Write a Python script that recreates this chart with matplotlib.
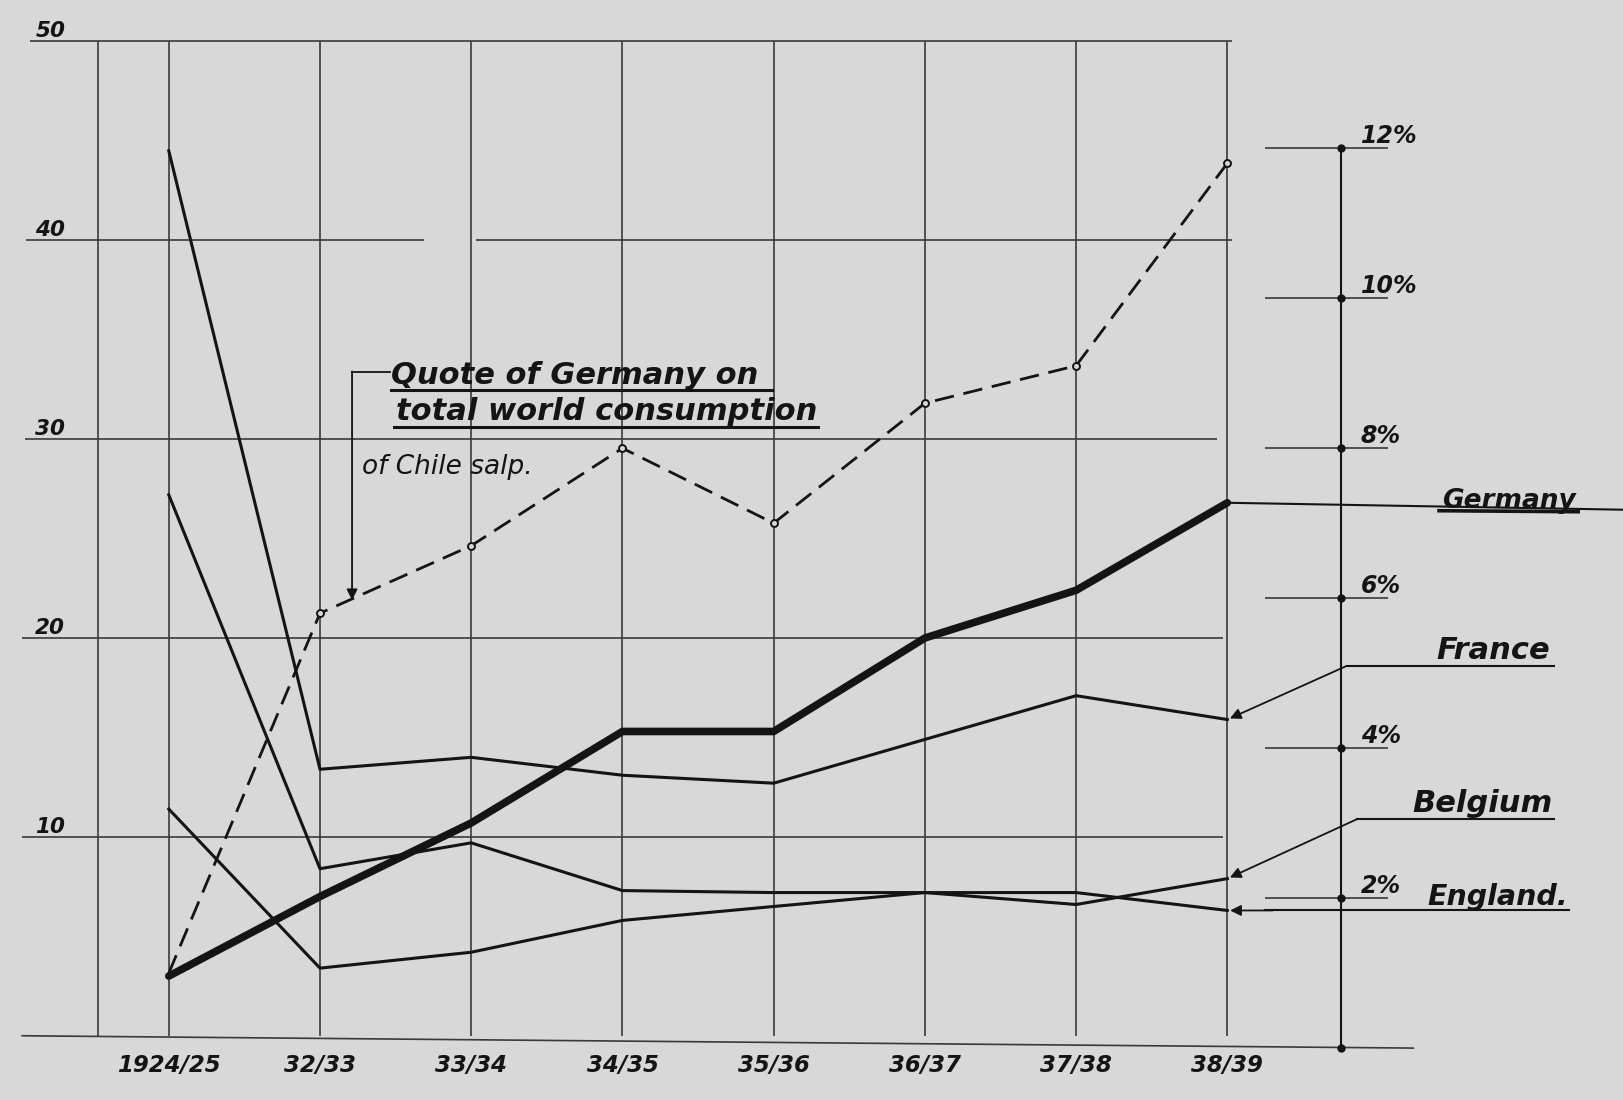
import matplotlib
matplotlib.use("Agg")
import matplotlib.pyplot as plt

# ---------------- data ----------------
years = ["1924/25", "32/33", "33/34", "34/35", "35/36", "36/37", "37/38", "38/39"]
germany = [3.0, 7.0, 10.7, 15.3, 15.3, 20.0, 22.4, 26.8]
france = [44.5, 13.4, 14.0, 13.1, 12.7, 14.9, 17.1, 15.9]
belgium = [27.2, 8.4, 9.7, 7.3, 7.2, 7.2, 6.6, 7.9]
england = [11.4, 3.4, 4.2, 5.8, 6.5, 7.2, 7.2, 6.3]
quote_pct = [1.0, 5.8, 6.7, 8.0, 7.0, 8.6, 9.1, 11.8]   # right scale, %

left_ticks = [10, 20, 30, 40, 50]
left_labels = ["10", "20", "30", "40", "50"]
pct_ticks = [0, 2, 4, 6, 8, 10, 12]
pct_labels = ["", "2%", "4%", "6%", "8%", "10%", "12%"]

# ---------------- style ----------------
BG = "#d8d8d8"
INK = "#141414"
GRID = "#3a3a3a"
HAND = dict(fontweight="bold", fontstyle="italic", color=INK, family="DejaVu Sans")

fig = plt.figure(figsize=(16.24, 11.0), dpi=100)
fig.patch.set_facecolor(BG)
ax = fig.add_axes([0, 0, 1, 1])
ax.set_facecolor(BG)
ax.set_xlim(-1.116, 9.623)
ax.set_ylim(-3.23, 52.08)
for s in ax.spines.values():
    s.set_visible(False)

x = list(range(len(years)))

# ---------------- hand-drawn grid ----------------
gkw = dict(color=GRID, lw=1.2, zorder=1)
ax.hlines(50, -0.92, 7.03, **gkw)
ax.hlines(40, -0.945, 1.69, **gkw)
ax.hlines(40, 2.03, 7.03, **gkw)
ax.hlines(30, -0.95, 6.93, **gkw)
ax.hlines(20, -0.97, 6.97, **gkw)
ax.hlines(10, -0.97, 6.97, **gkw)
ax.plot([-0.97, 8.23], [0, -0.62], **gkw)
ax.vlines([-0.47] + x, 0, 50, **gkw)

# ---------------- country lines ----------------
ax.plot(x, germany, color=INK, lw=5.5, solid_capstyle="round",
        solid_joinstyle="round", zorder=6)
for series in (france, belgium, england):
    ax.plot(x, series, color=INK, lw=2.2, solid_joinstyle="round", zorder=5)

# ---------------- axis labels ----------------
ax.set_xticks(x, years)
ax.tick_params(axis="x", length=0, pad=-33, labelsize=16.5)
for lab in ax.get_xticklabels():
    lab.set_fontweight("bold"); lab.set_fontstyle("italic"); lab.set_color(INK)

ax.set_yticks(left_ticks, left_labels)
ax.tick_params(axis="y", length=0, pad=-47, labelsize=15.5)
for lab in ax.get_yticklabels():
    lab.set_fontweight("bold"); lab.set_fontstyle("italic"); lab.set_color(INK)
    lab.set_verticalalignment("bottom")

# ---------------- right percentage scale ----------------
k, off = 3.771, -0.625          # percent -> left units
tw = ax.twinx()
tw.set_ylim((-3.23 - off) / k, (52.08 - off) / k)
for name in ("top", "left", "bottom"):
    tw.spines[name].set_visible(False)
tw.spines["right"].set_position(("data", 7.753))
tw.spines["right"].set_bounds(0, 12)
tw.spines["right"].set_color(INK)
tw.spines["right"].set_linewidth(1.5)
tw.set_yticks(pct_ticks, pct_labels)
tw.tick_params(axis="y", length=0, pad=14, labelsize=17)
for lab in tw.get_yticklabels():
    lab.set_fontweight("bold"); lab.set_fontstyle("italic"); lab.set_color(INK)
    lab.set_verticalalignment("bottom")
tw.hlines(pct_ticks[1:], 7.25, 8.06, color=GRID, lw=1.2, zorder=2)
tw.plot([7.753] * len(pct_ticks), pct_ticks, "o", ms=5, color=INK, zorder=3)

# quote of Germany (dashed)
tw.plot(x, quote_pct, color=INK, lw=2.0, dashes=(7, 3.5), zorder=5)
tw.plot(x[1:], quote_pct[1:], "o", ms=5, mfc=BG, mec=INK, mew=1.4, zorder=6)

# ---------------- annotation: quote ----------------
ax.text(1.47, 32.75, "Quote of Germany on", fontsize=22, ha="left", va="baseline", **HAND)
ax.text(1.50, 30.95, "total world consumption", fontsize=22, ha="left", va="baseline", **HAND)
ax.plot([1.47, 3.99], [32.45, 32.45], color=INK, lw=2.2, zorder=7)
ax.plot([1.49, 4.29], [30.6, 30.6], color=INK, lw=2.2, zorder=7)
ax.text(1.28, 28.25, "of Chile salp.", fontsize=19, ha="left", va="baseline",
        fontstyle="italic", color=INK)
ax.plot([1.212, 1.46], [33.4, 33.4], color=INK, lw=1.3)
ax.annotate("", xy=(1.212, 21.9), xytext=(1.212, 33.4),
            arrowprops=dict(arrowstyle="-|>", color=INK, lw=1.3,
                            mutation_scale=16, shrinkA=0, shrinkB=0))

# ---------------- country labels ----------------
arrow = dict(arrowstyle="-|>", color=INK, lw=1.3, mutation_scale=16,
             shrinkA=0, shrinkB=2)

# Germany
ax.plot([7.0, 9.623], [germany[-1], germany[-1] - 0.35], color=INK, lw=1.5, zorder=4)
ax.text(8.86, 26.55, "Germany", fontsize=19, ha="center", va="baseline", **HAND)
ax.plot([8.40, 9.32], [26.4, 26.35], color=INK, lw=2.6, zorder=7)

# France
ax.text(8.76, 18.95, "France", fontsize=22, ha="center", va="baseline", **HAND)
ax.plot([7.79, 9.16], [18.6, 18.6], color=INK, lw=1.5)
ax.annotate("", xy=(7.0, france[-1]), xytext=(7.79, 18.6), arrowprops=arrow)

# Belgium
ax.text(8.69, 11.25, "Belgium", fontsize=22, ha="center", va="baseline", **HAND)
ax.plot([7.86, 9.16], [10.9, 10.9], color=INK, lw=1.5)
ax.annotate("", xy=(7.0, belgium[-1]), xytext=(7.86, 10.9), arrowprops=arrow)

# England
ax.text(8.79, england[-1] + 0.3, "England.", fontsize=20.5, ha="center", va="baseline", **HAND)
ax.plot([7.25, 9.26], [england[-1], england[-1]], color=INK, lw=1.5)
ax.annotate("", xy=(7.0, england[-1]), xytext=(7.3, england[-1]), arrowprops=arrow)

fig.savefig("out.png", dpi=100, facecolor=BG)
